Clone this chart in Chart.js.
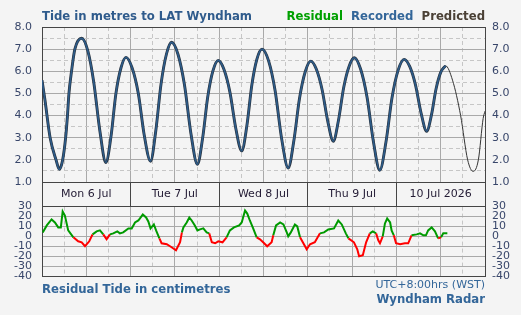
<!DOCTYPE html>
<html><head><meta charset="utf-8">
<script src="https://cdn.jsdelivr.net/npm/chart.js@4.4.1/dist/chart.umd.min.js"></script>
<style>
html,body{margin:0;padding:0;background:#f4f4f4;width:521px;height:315px;overflow:hidden;font-family:'DejaVu Sans',Verdana,sans-serif}
canvas{position:absolute;left:0}
.t{position:absolute;white-space:nowrap;line-height:14px}
</style></head><body>
<canvas id="top" width="521" height="206" style="top:0"></canvas>
<canvas id="bot" width="521" height="125" style="top:190px"></canvas>
<div class="t" style="left:42px;top:9px;font-weight:bold;font-size:11.7px;color:#2f5b8c">Tide in metres to LAT Wyndham</div>
<div class="t" style="right:36px;top:9px;font-weight:bold;font-size:11.7px">
<span style="color:#00a000">Residual</span>&nbsp;&nbsp;<span style="color:#336699">Recorded</span>&nbsp;&nbsp;<span style="color:#4a4035">Predicted</span></div>
<div class="t" style="left:42px;top:282px;font-weight:bold;font-size:11.7px;color:#336699">Residual Tide in centimetres</div>
<div class="t" style="right:36px;top:278px;font-size:11px;color:#336699">UTC+8:00hrs (WST)</div>
<div class="t" style="right:36px;top:292px;font-weight:bold;font-size:11.7px;color:#336699">Wyndham Radar</div>
<script>
// ---- data (hours from Mon 6 Jul 00:00) ----
const dayLabels = ['Mon 6 Jul','Tue 7 Jul','Wed 8 Jul','Thu 9 Jul','10 Jul 2026'];
const tideTicks = [1,2,3,4,5,6,7,8];
const residualTicks = [-40,-30,-20,-10,0,10,20,30];

const recordedHours = [0,0.8,2.2,3.8,4.7,5.6,6.4,6.9,7.3,8.0,8.9,10.75,12.4,14.0,15.7,17.3,18.7,20.0,21.4,22.75,24.4,26.1,27.7,29.4,30.8,32.25,33.7,35.1,36.85,38.6,40.35,42.1,43.5,44.9,46.3,47.75,49.3,50.9,52.5,54.1,55.5,56.85,58.2,59.6,61.4,63.15,64.9,66.7,68.2,69.75,71.3,72.8,74.3,75.85,77.4,78.9,80.3,81.75,83.2,84.6,86.3,88.05,89.8,91.5,93.15,94.8,96.45,98.1,99.6,101.15,102.7,104.2,105.5,106.75,108.0,109.3];
const recordedValues = [5.6,4.7,3.0,2.0,1.57,2.0,3.0,4.0,5.0,6.0,7.0,7.49,6.93,5.53,3.28,1.88,3.07,4.97,6.16,6.63,6.16,4.99,3.11,1.94,3.28,5.43,6.77,7.31,6.76,5.38,3.18,1.80,2.97,4.85,6.02,6.49,6.08,5.06,3.42,2.40,3.55,5.39,6.54,7.0,6.46,5.12,2.97,1.63,2.84,4.77,5.98,6.46,6.10,5.19,3.75,2.84,3.78,5.29,6.23,6.61,6.10,4.83,2.80,1.53,2.78,4.79,6.04,6.54,6.22,5.40,4.10,3.29,4.03,5.21,5.95,6.25];
const predictedExtraHours = [111.2,113.4,115.3,116.8,118.2,119.5,120];
const predictedExtraValues = [5.6,4.0,2.0,1.48,2.0,3.87,4.2];

const residualHours = [0.2,1.3,2.6,3.5,4.4,5.1,5.6,6.2,7.1,8.5,9.8,10.75,11.65,12.8,13.7,14.8,15.7,16.6,17.5,18.4,19.3,20.4,21.1,22.0,23.4,24.3,25.2,26.1,27.3,28.2,28.8,29.4,30.3,30.9,31.8,32.4,33.8,35.1,36.3,37.4,37.9,38.3,39.2,39.9,40.55,41.4,42.1,42.8,43.7,44.6,45.3,46.0,46.9,47.75,48.9,50.0,50.9,52.0,53.4,54.1,55.0,55.6,56.3,57.2,58.15,59.05,59.9,61.0,62.2,62.65,63.4,64.5,65.4,66.3,66.7,67.4,68.5,69.15,69.9,70.8,71.7,72.6,73.9,75.3,76.4,77.55,79.1,80.25,81.2,82.3,83.0,84.5,85.4,85.9,86.9,87.8,88.8,89.6,90.5,91.1,91.55,92.3,92.9,93.5,94.3,94.7,95.3,95.9,97.0,98.3,99.2,100.1,101.5,102.4,103.3,104.0,104.6,105.55,106.45,107.3,108.1,108.7,109.8];
const residualValues = [4,11,17,14,9,9,25,21,6,-1,-5,-6,-10,-5,2,5,6,2,-3,2,3,5,3,4,8,8,14,16,22,19,15,8,12,6,-2,-7,-8,-11,-14,-6,4,9,14,19,16,11,6,7,8,4,3,-6,-7,-5,-6,-1,6,9,11,14,26,23,16,8,-1,-3,-6,-10,-6,1,11,14,12,4,0,4,12,10,-1,-7,-13,-8,-6,3,4,7,8,16,12,3,-2,-6,-13,-20,-19,-6,3,5,3,-4,-7,0,13,18,14,6,1,-7,-8,-7,-7,1,2,3,1,1,6,9,5,-2,-1,3,3];

// ---- build ----
const toXY = (xs, ys) => xs.map((x, i) => ({x, y: ys[i]}));
const recordedData = toXY(recordedHours, recordedValues);
const predictedData = recordedData.concat(toXY(predictedExtraHours, predictedExtraValues));
const residualData = toXY(residualHours, residualValues);

const FONT = {family: "'DejaVu Sans', Verdana, sans-serif", size: 11};
const FRAME = '#454545';
const SOLID = '#a9a9a9';
const DASH = '#c6c6c6';

function xGrid(ctx) {
  if (!ctx.tick) return SOLID;
  const v = ctx.tick.value;
  if (v === 0 || v === 120) return FRAME;
  return v % 12 === 0 ? SOLID : DASH;
}
function xDash(ctx) {
  if (!ctx.tick) return [];
  return ctx.tick.value % 12 === 0 ? [] : [4, 3];
}

new Chart(document.getElementById('top'), {
  type: 'line',
  data: {datasets: [
    {data: recordedData, borderColor: '#2d5b88', borderWidth: 1.7, pointRadius: 0, cubicInterpolationMode: 'monotone', yAxisID: 'y'},
    {data: recordedData, borderColor: '#28313c', borderWidth: 2.9, pointRadius: 0, cubicInterpolationMode: 'monotone', yAxisID: 'y'},
    {data: predictedData, borderColor: '#333333', borderWidth: 1, pointRadius: 0, cubicInterpolationMode: 'monotone', yAxisID: 'y'}
  ]},
  options: {
    responsive: false, animation: false, events: [],
    layout: {padding: {top: 27, left: 0, right: 0, bottom: 0}},
    plugins: {legend: {display: false}, tooltip: {enabled: false}},
    scales: {
      x: {
        type: 'linear', min: 0, max: 120,
        afterFit: s => { s.height = 24; },
        ticks: {stepSize: 6, autoSkip: false, maxRotation: 0, padding: -18, color: '#221a33', font: FONT,
          callback: v => (v % 24 === 12 ? dayLabels[(v - 12) / 24] : '')},
        grid: {color: xGrid, lineWidth: 1, drawTicks: true, tickLength: 24,
          tickColor: ctx => (ctx.tick && ctx.tick.value % 24 === 0 ? FRAME : 'rgba(0,0,0,0)'), tickWidth: 1},
        border: {display: true, color: FRAME, width: 1, dash: xDash}
      },
      y: {
        position: 'left', min: 1, max: 8,
        afterFit: s => { s.width = 42; },
        afterBuildTicks: s => { s.ticks = []; for (let i = 0; i < tideTicks.length; i++) { s.ticks.push({value: tideTicks[i]}); if (i < tideTicks.length - 1) s.ticks.push({value: tideTicks[i] + 0.5}); } },
        ticks: {autoSkip: false, padding: 10, color: '#38466a', font: FONT,
          callback: v => (Number.isInteger(v) ? v.toFixed(1) : '')},
        grid: {color: ctx => (ctx.tick && (ctx.tick.value === 8 || ctx.tick.value === 1) ? FRAME : (ctx.tick && Number.isInteger(ctx.tick.value) ? SOLID : DASH)), drawTicks: false},
        border: {display: true, color: FRAME, dash: ctx => (ctx.tick && !Number.isInteger(ctx.tick.value) ? [4, 3] : [])}
      },
      y2: {
        position: 'right', min: 1, max: 8,
        afterFit: s => { s.width = 36; },
        afterBuildTicks: s => { s.ticks = tideTicks.map(v => ({value: v})); },
        ticks: {autoSkip: false, padding: 7, color: '#38466a', font: FONT, callback: v => v.toFixed(1)},
        grid: {display: false, drawTicks: false},
        border: {display: true, color: FRAME}
      }
    }
  }
});

new Chart(document.getElementById('bot'), {
  type: 'line',
  data: {datasets: [
    {data: residualData, borderWidth: 2, pointRadius: 0, tension: 0, borderColor: '#009a00',
      segment: {borderColor: c => ((c.p0.parsed.y + c.p1.parsed.y) / 2 >= 0 ? '#009a00' : '#ff0000')}}
  ]},
  options: {
    responsive: false, animation: false, events: [],
    layout: {padding: {top: 16, left: 0, right: 0, bottom: 39}},
    plugins: {legend: {display: false}, tooltip: {enabled: false}},
    scales: {
      x: {
        type: 'linear', min: 0, max: 120,
        afterFit: s => { s.height = 0; },
        ticks: {display: false, stepSize: 6, autoSkip: false},
        grid: {color: xGrid, drawTicks: false},
        border: {display: true, color: FRAME, dash: xDash}
      },
      y: {
        position: 'left', min: -40, max: 30,
        afterFit: s => { s.width = 42; },
        afterBuildTicks: s => { s.ticks = residualTicks.map(v => ({value: v})); },
        ticks: {autoSkip: false, padding: 10, color: '#38466a', font: FONT},
        grid: {color: ctx => (ctx.tick && ctx.tick.value === 30 ? FRAME : SOLID), drawTicks: false},
        border: {display: true, color: FRAME}
      },
      y2: {
        position: 'right', min: -40, max: 30,
        afterFit: s => { s.width = 36; },
        afterBuildTicks: s => { s.ticks = residualTicks.map(v => ({value: v})); },
        ticks: {autoSkip: false, padding: 7, color: '#38466a', font: FONT},
        grid: {display: false, drawTicks: false},
        border: {display: true, color: FRAME}
      }
    }
  }
});
</script>
</body></html>
